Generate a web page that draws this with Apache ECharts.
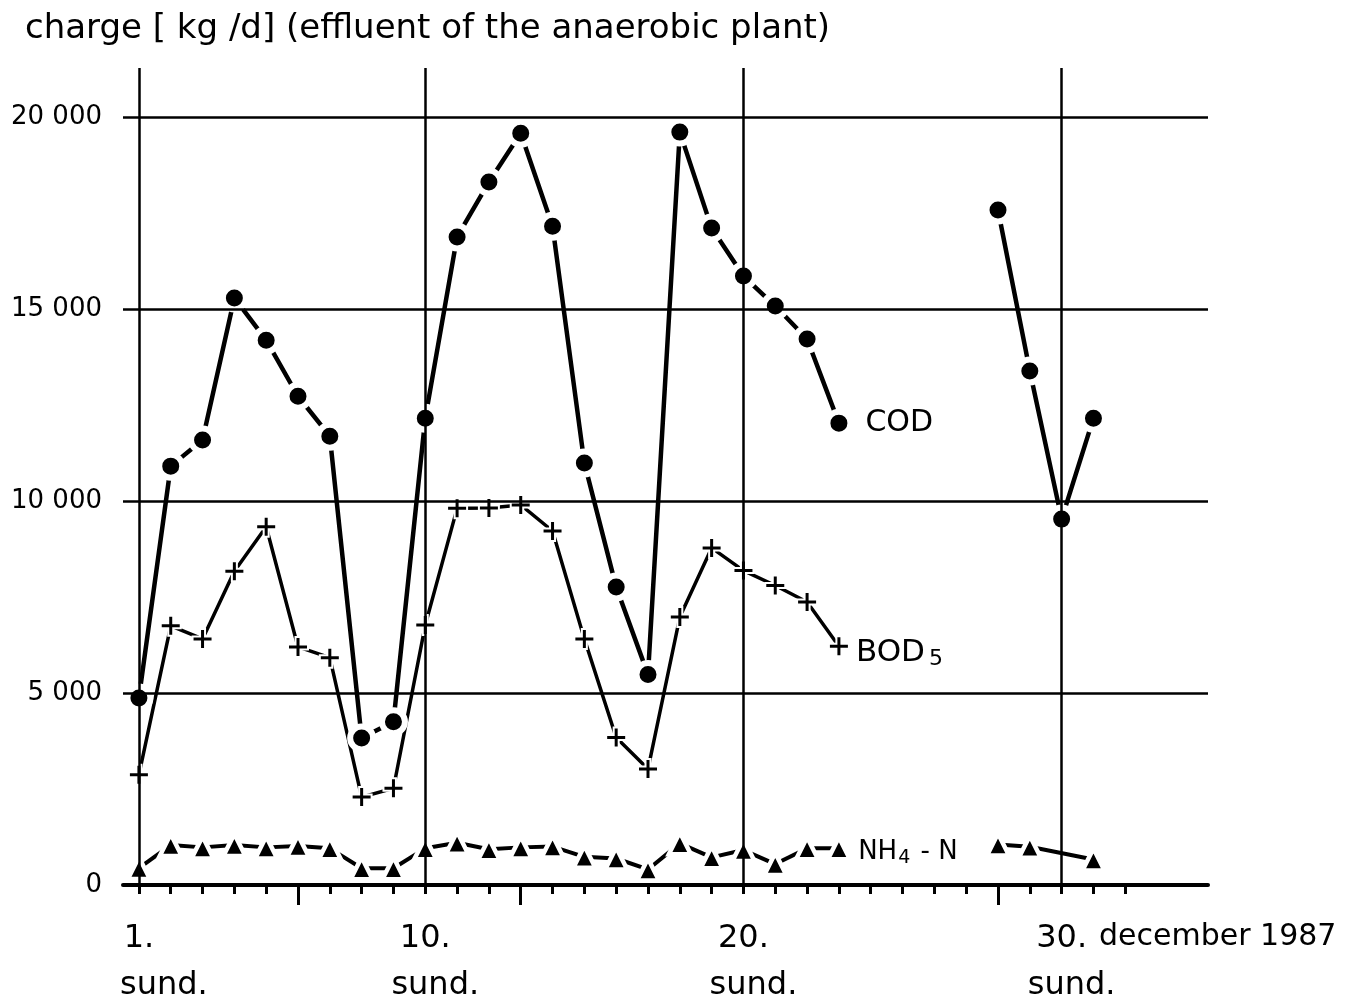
<!DOCTYPE html>
<html>
<head>
<meta charset="utf-8">
<script src="https://cdn.jsdelivr.net/npm/echarts@6/dist/echarts.min.js"></script>
<style>
  html, body { margin: 0; background: #fff; }
  #chart { width: 1347px; height: 1004px; }
</style>
</head>
<body>
<div id="chart"></div>
<script>
// days of december 1987 and daily loads in kg/d
const codDays = [1, 2, 3, 4, 5, 6, 7, 8, 9, 10, 11, 12, 13, 14, 15, 16, 17, 18, 19, 20, 21, 22, 23, 28, 29, 30, 31]
const cod = [4870, 10910, 11590, 15290, 14190, 12730, 11690, 3830, 4250, 12160, 16880, 18310, 19580, 17160, 10990, 7760, 5480, 19610, 17110, 15860, 15080, 14220, 12030, 17580, 13390, 9530, 12160]

const bodDays = [1, 2, 3, 4, 5, 6, 7, 8, 9, 10, 11, 12, 13, 14, 15, 16, 17, 18, 19, 20, 21, 22, 23]
const bod = [2870, 6750, 6410, 8170, 9330, 6200, 5920, 2290, 2520, 6770, 9810, 9820, 9900, 9220, 6410, 3840, 3020, 6980, 8780, 8190, 7800, 7370, 6220]

const nh4Days = [1, 2, 3, 4, 5, 6, 7, 8, 9, 10, 11, 12, 13, 14, 15, 16, 17, 18, 19, 20, 21, 22, 23, 28, 29, 31]
const nh4 = [440, 1040, 980, 1040, 980, 1015, 955, 435, 435, 955, 1100, 930, 980, 1000, 735, 690, 405, 1085, 720, 910, 545, 955, 955, 1057, 997, 665]

const tickDays = [1, 2, 3, 4, 5, 6, 7, 8, 9, 10, 11, 12, 13, 14, 15, 16, 17, 18, 19, 20, 21, 22, 23, 24, 25, 26, 27, 28, 29, 30, 31, 32]
const longTickDays = [6, 13, 28]
const labelDays = [1, 10, 20, 30]
const gridDays = [1, 10, 20, 30]
const yTicks = [0, 5000, 10000, 15000, 20000]
const gridLoads = [5000, 10000, 15000, 20000]

const FONT = '"DejaVu Sans", sans-serif'

// pairs for a value axis, with a break where days are missing
const toPairs = (xs, ys) => {
  const out = []
  xs.forEach((x, i) => {
    if (i > 0 && x - xs[i - 1] > 2) out.push([(x + xs[i - 1]) / 2, null])
    out.push([x, ys[i]])
  })
  return out
}

const withLabel = (pairs, day, label) => {
  return pairs.map(p => (p[0] === day ? { value: p, label: label } : p))
}

const fmtLoad = v => {
  if (v < 1000) return String(v)
  const s = String(v)
  return s.slice(0, s.length - 3) + ' ' + s.slice(-3)
}

const chart = echarts.init(document.getElementById('chart'))

const codData = withLabel(toPairs(codDays, cod), 23, {
  show: true, position: 'right', distance: 12, formatter: 'COD',
  fontFamily: FONT, fontSize: 30, color: '#000', padding: [4, 0, 0, 0]
})
const bodData = withLabel(toPairs(bodDays, bod), 23, {
  show: true, position: 'right', distance: 6, formatter: '{a|BOD}{b|5}',
  color: '#000',
  rich: {
    a: { fontFamily: FONT, fontSize: 31, color: '#000', padding: [14, 0, 0, 0] },
    b: { fontFamily: FONT, fontSize: 22, color: '#000', padding: [26, 0, 0, 4] }
  }
})
const nh4Data = withLabel(toPairs(nh4Days, nh4), 23, {
  show: true, position: 'right', distance: 6, formatter: '{a|NH}{b|4}{a| - N}',
  color: '#000',
  rich: {
    a: { fontFamily: FONT, fontSize: 26, color: '#000', padding: [8, 0, 0, 0] },
    b: { fontFamily: FONT, fontSize: 19, color: '#000', padding: [20, 2, 0, 1] }
  }
})

chart.setOption({
  animation: false,
  backgroundColor: '#fff',
  title: {
    text: 'charge [ kg /d] (effluent of the anaerobic plant)',
    left: 20,
    top: 7,
    textStyle: { fontFamily: FONT, fontSize: 34, fontWeight: 'normal', color: '#000' }
  },
  graphic: [{
    type: 'text',
    left: 1099,
    top: 922,
    style: { text: 'december 1987', font: '30px ' + FONT, fill: '#000' }
  }],
  grid: { left: 123, right: 139, top: 68, bottom: 119 },
  xAxis: [
    {
      type: 'value', min: 0.5, max: 34.6,
      axisLine: { show: true, onZero: false, lineStyle: { color: '#000', width: 4 } },
      axisTick: { show: true, customValues: tickDays, length: 9, lineStyle: { color: '#000', width: 3 } },
      axisLabel: {
        customValues: labelDays,
        margin: 30,
        color: '#000',
        formatter: v => '{n|' + v + '.}\n' + (v === 1 ? '{s1|sund.}' : '{s|sund.}'),
        rich: {
          n: { fontFamily: FONT, fontSize: 32, lineHeight: 47, color: '#000' },
          s: { fontFamily: FONT, fontSize: 32, lineHeight: 47, color: '#000', padding: [0, 0, 0, 20] },
          s1: { fontFamily: FONT, fontSize: 32, lineHeight: 47, color: '#000', padding: [0, 0, 0, 50] }
        }
      },
      splitLine: { show: false }
    },
    {
      type: 'value', min: 0.5, max: 34.6, position: 'bottom',
      axisLine: { show: false },
      axisTick: { show: true, customValues: longTickDays, length: 20, lineStyle: { color: '#000', width: 3 } },
      axisLabel: { show: false },
      splitLine: { show: false }
    }
  ],
  yAxis: {
    type: 'value', min: 0, max: 21280, interval: 5000,
    axisLine: { show: false },
    axisTick: { show: false },
    splitLine: { show: false },
    axisLabel: {
      customValues: yTicks,
      margin: 21,
      fontFamily: FONT, fontSize: 26, color: '#000',
      formatter: v => fmtLoad(v)
    }
  },
  series: [
    {
      type: 'line', xAxisIndex: 0, data: [], silent: true,
      markLine: {
        silent: true, symbol: ['none', 'none'], animation: false,
        label: { show: false },
        lineStyle: { color: '#000', width: 2.5, type: 'solid' },
        emphasis: { disabled: true },
        data: [
          ...gridLoads.map(v => ({ yAxis: v })),
          ...gridDays.map(d => ({ xAxis: d }))
        ]
      }
    },
    {
      name: 'NH4-N', type: 'line', xAxisIndex: 0, data: nh4Data,
      symbol: 'triangle', symbolSize: 22,
      lineStyle: { color: '#000', width: 4 },
      itemStyle: { color: '#000', borderColor: '#fff', borderWidth: 4.5 }
    },
    {
      name: 'BOD5', type: 'line', xAxisIndex: 0, data: bodData,
      symbol: 'path://M7.5,0H12.5V7.5H20V12.5H12.5V20H7.5V12.5H0V7.5H7.5Z', symbolSize: 20,
      lineStyle: { color: '#000', width: 3.5 },
      itemStyle: { color: '#000', borderColor: '#fff', borderWidth: 2 }
    },
    {
      name: 'COD', type: 'line', xAxisIndex: 0, data: codData,
      symbol: 'circle', symbolSize: 23,
      lineStyle: { color: '#000', width: 4.5 },
      itemStyle: { color: '#000', borderColor: '#fff', borderWidth: 6 }
    }
  ]
})
</script>
</body>
</html>
